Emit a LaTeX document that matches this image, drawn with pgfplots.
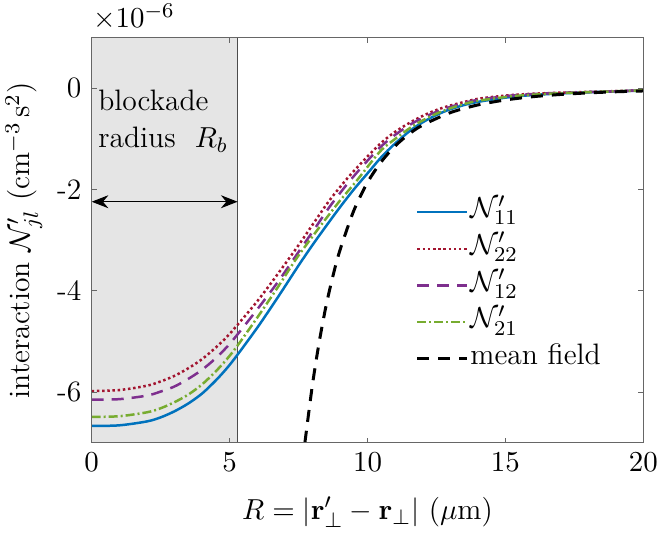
\documentclass[border=0pt]{standalone}
\usepackage{pgfplots}
\pgfplotsset{compat=1.18}
\usetikzlibrary{arrows.meta}
\definecolor{mblue}{rgb}{0,0.447,0.741}
\definecolor{mred}{rgb}{0.635,0.078,0.184}
\definecolor{mpurple}{rgb}{0.494,0.184,0.556}
\definecolor{mgreen}{rgb}{0.466,0.674,0.188}
\definecolor{shade}{rgb}{0.9,0.9,0.9}
\begin{document}
\fontsize{11.2}{13.5}\selectfont
\begin{tikzpicture}
\begin{axis}[
  scale only axis, width=208.15bp, height=152.83bp,
  xmin=0, xmax=20, ymin=-7, ymax=1,
  xtick={0,5,10,15,20}, ytick={-6,-4,-2,0}, yticklabels={-6,-4,-2,0},
  tick align=inside, major tick length=1.9bp,
  axis line style={black!60, line width=0.3bp},
  every tick/.style={black!60, line width=0.3bp},
  clip=false,
  axis on top,
  xlabel={$R = |\mathbf{r}'_{\perp} - \mathbf{r}_{\perp}|$ ($\mu$m)},
  ylabel={interaction $\mathcal{N}'_{jl}$ (cm$^{-3}$\,s$^{2}$)},
  xlabel shift=2bp,
  ylabel shift=-2bp,
  legend cell align=left,
  legend style={draw=none, fill=none, at={(axis cs:11.45,-2.08)}, anchor=north west,
    row sep=4.3bp, nodes={inner sep=0.57bp, anchor=west, text height=6.3bp, text depth=2.1bp}},
  legend image code/.code={\draw[#1] (0bp,0bp) -- (18.87bp,0bp);},
]
\addplot[fill=shade, draw=none, forget plot] coordinates {(0,-7) (5.29,-7) (5.29,1) (0,1)} -- cycle;
\addplot[black!70, line width=0.3bp, forget plot] coordinates {(5.29,-7) (5.29,1)};

\addplot[mblue, line width=0.94bp, smooth] coordinates {
(0,-6.67) (1,-6.657) (2,-6.58) (2.5,-6.50) (3,-6.38) (3.5,-6.226) (4,-6.03) (4.5,-5.77) (4.9,-5.53) (5.29,-5.26)
(6.04,-4.70) (6.77,-4.11) (7.5,-3.5) (8.0,-3.1) (8.5,-2.72) (9.0,-2.35) (9.5,-2.0) (10,-1.68)
(10.5,-1.36) (11,-1.09) (11.66,-0.79) (12.3,-0.58) (12.87,-0.44) (13.5,-0.33) (14.08,-0.26)
(15.28,-0.165) (16.5,-0.115) (17.7,-0.085) (19,-0.06) (20,-0.045)};
\addlegendentry{$\mathcal{N}'_{11}$}

\addplot[mred, line width=0.94bp, dash pattern=on 0.94bp off 1.02bp, smooth] coordinates {
(0,-5.98) (1,-5.96) (2,-5.875) (2.5,-5.79) (3,-5.68) (3.5,-5.53) (4,-5.35) (4.5,-5.12) (4.9,-4.91) (5.29,-4.67)
(6.04,-4.18) (6.77,-3.65) (7.55,-3.06) (8.1,-2.62) (8.64,-2.2) (9.25,-1.79) (9.8,-1.46)
(10.45,-1.1) (11,-0.86) (11.66,-0.64) (12.3,-0.47) (12.87,-0.36) (13.5,-0.27) (14.08,-0.2)
(15.28,-0.13) (16.5,-0.095) (17.7,-0.075) (19,-0.055) (20,-0.04)};
\addlegendentry{$\mathcal{N}'_{22}$}

\addplot[mpurple, line width=0.94bp, dash pattern=on 4.53bp off 3.02bp, smooth] coordinates {
(0,-6.15) (1,-6.14) (2,-6.07) (2.5,-5.99) (3,-5.89) (3.5,-5.74) (4,-5.56) (4.5,-5.33) (4.9,-5.11) (5.29,-4.86)
(6.04,-4.34) (6.77,-3.81) (7.49,-3.24) (8.1,-2.76) (8.64,-2.33) (9.25,-1.9) (9.8,-1.55)
(10.45,-1.17) (11,-0.92) (11.66,-0.68) (12.3,-0.51) (12.87,-0.39) (13.5,-0.29) (14.08,-0.22)
(15.28,-0.14) (16.5,-0.1) (17.7,-0.078) (19,-0.057) (20,-0.04)};
\addlegendentry{$\mathcal{N}'_{12}$}

\addplot[mgreen, line width=0.94bp, dash pattern=on 3.4bp off 1.13bp on 0.75bp off 1.13bp, smooth] coordinates {
(0,-6.49) (1,-6.477) (2,-6.40) (2.5,-6.32) (3,-6.20) (3.5,-6.05) (4,-5.85) (4.5,-5.59) (4.9,-5.35) (5.29,-5.08)
(6.04,-4.5) (6.77,-3.91) (7.4,-3.38) (8.0,-2.93) (8.5,-2.57) (9.0,-2.22) (9.6,-1.83) (10.45,-1.25)
(11,-1.0) (11.66,-0.74) (12.3,-0.55) (12.87,-0.42) (13.5,-0.31) (14.08,-0.24)
(15.28,-0.155) (16.5,-0.11) (17.7,-0.082) (19,-0.058) (20,-0.04)};
\addlegendentry{$\mathcal{N}'_{21}$}

\addplot[black, line width=1.13bp, dash pattern=on 4.53bp off 3.4bp, smooth] coordinates {
(7.73,-7.0) (8.0,-5.87) (8.25,-5.01) (8.5,-4.29) (8.75,-3.70) (9.0,-3.20) (9.5,-2.42)
(10,-1.86) (10.5,-1.45) (11,-1.14) (11.5,-0.905) (12,-0.727) (13,-0.481) (14,-0.328)
(15,-0.23) (16,-0.165) (17,-0.121) (18,-0.09) (19,-0.068) (20,-0.052)};
\addlegendentry{mean field}

\draw[{Stealth[length=6.3bp,width=4.9bp]}-{Stealth[length=6.3bp,width=4.9bp]}, line width=0.38bp]
  (axis cs:0,-2.24) -- (axis cs:5.29,-2.24);
\node[anchor=base west, align=left, inner sep=0pt, font=\fontsize{11.2}{13.96}\selectfont]
  at (axis cs:0.22,-1.17) {blockade\\radius \ $R_b$};
\node[anchor=base west, inner sep=0pt] at ([shift={(0.38bp,3.8bp)}]rel axis cs:0,1) {$\times10^{-6}$};
\coordinate (bl) at (rel axis cs:0,0);
\coordinate (tr) at (rel axis cs:1,1);
\end{axis}
\pgfresetboundingbox
\path ([shift={(-34.6bp,-34.08bp)}]bl) rectangle ([shift={(5.92bp,14.23bp)}]tr);
\end{tikzpicture}
\end{document}
